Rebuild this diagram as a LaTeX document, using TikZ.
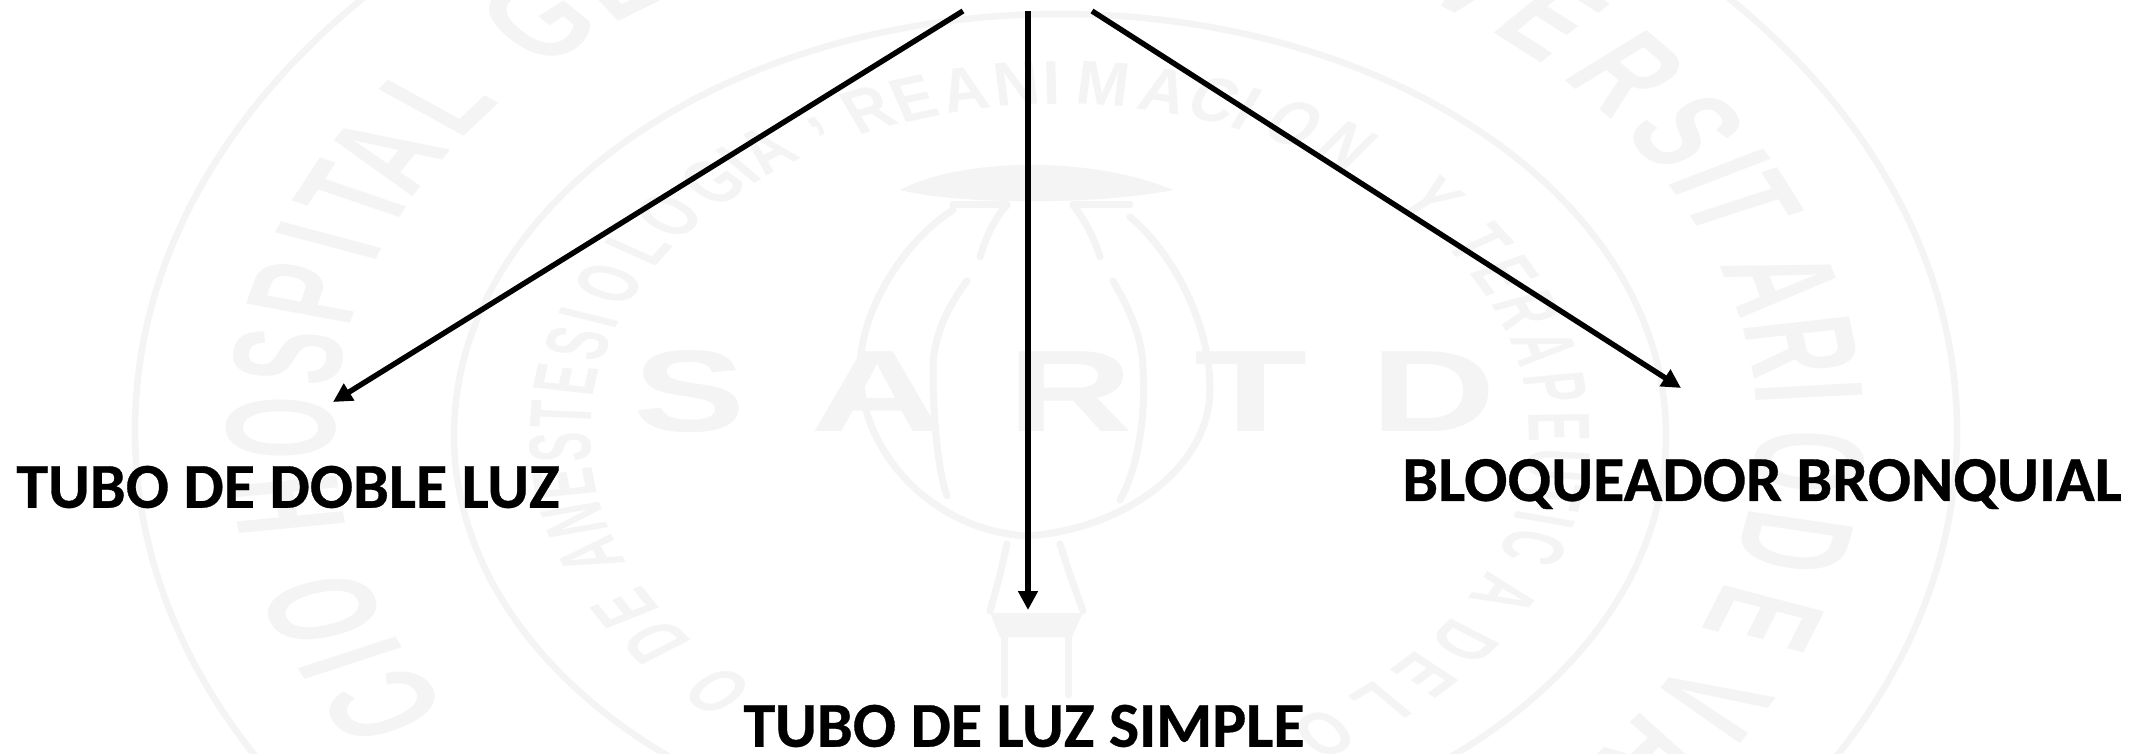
\documentclass[tikz,border=0pt]{standalone}
\usepackage{fontspec}
\setmainfont{Carlito}
\newfontfamily\wmfont{Liberation Sans}
\usetikzlibrary{arrows.meta}
\definecolor{wmgray}{HTML}{F4F4F4}
\tikzset{
  labeltext/.style={font=\fontsize{64}{76}\selectfont\bfseries\addfontfeature{FakeBold=0.5},text=black,inner sep=0pt,anchor=center},
  branch/.style={draw=black,line width=5.4pt,-{Triangle[length=19pt,width=19pt]}},
  wmring/.style={draw=wmgray,line width=6.5pt},
  wmletter/.style={text=wmgray,inner sep=0pt,anchor=center},
  wmbig/.style={font=\wmfont\fontsize{116}{116}\selectfont\bfseries,text=wmgray,inner sep=0pt},
  wmshape/.style={draw=wmgray,line width=7pt,fill=none,line cap=round}
}
\newcommand{\ringletters}[7]{% prefix cx cy stretch r fontsize list
  \begin{scope}[shift={(#2,#3)},xscale=#4,transform shape]
  \foreach \ang/\ch in {#7}{
    \node[wmletter,font=\wmfont\fontsize{#6}{#6}\selectfont\bfseries,rotate=\ang-90] (#1\ang) at ({#5*cos(\ang)},{-#5*sin(\ang)}) {\scalebox{0.72}[1]{\ch}};
  }
  \end{scope}
}
\begin{document}
\begin{tikzpicture}[x=1pt,y=-1pt]
\useasboundingbox (0,0) rectangle (2152,754);
\fill[white] (0,0) rectangle (2152,754);
\begin{scope}
\clip (0,0) rectangle (2152,754);
% watermark rings
\draw[wmring] (1046,431) ellipse [x radius=911,y radius=654];
\draw[wmring] (1060,435) ellipse [x radius=606,y radius=421];
% outer lettering
\ringletters{wa}{1046}{431}{1.39}{550}{112}{210/C,204.4/I,198.9/O,187.7/H,179.7/O,172.2/S,165.5/P,159.7/I,154.7/T,149.8/A,142.7/L,131.6/G,124.5/E,55.5/V,48.6/E,40.5/R,33/S,28.1/I,24.3/T,15.7/A,8.9/R,4.1/I,-3.2/O,-11.7/D,-20/E,-29.5/V,-36.5/A}
% inner lettering
\ringletters{wb}{1060}{435}{1.42}{352}{62}{226.8/O,216/D,209.5/E,200/A,194/N,188/E,182/S,176.6/T,171/E,165/S,160.5/I,154.5/O,147.5/L,141.4/O,134/G,130/I,126/A,119/{,},112.6/R,107/E,101/A,95/N,91/I,85/M,78/A,72/C,68/I,62/O,55/N,42/Y,33/T,27/E,20.8/R,14.3/A,7.7/P,1.3/E,-5/U,-10/T,-14/I,-18.6/C,-27/A,-36/D,-43/E,-50/L,-58/O}
% central letters
\node[wmbig] (wmS) at (690,392) {\scalebox{1.45}[1]{S}};
\node[wmbig] (wmA) at (878,392) {\scalebox{1.6}[1]{A}};
\node[wmbig] (wmR) at (1070,392) {\scalebox{1.5}[1]{R}};
\node[wmbig] (wmT) at (1251,392) {\scalebox{1.6}[1]{T}};
\node[wmbig] (wmD) at (1433,392) {\scalebox{1.5}[1]{D}};
% poppy capsule
\draw[wmshape] (953,210) .. controls (905,240) and (860,310) .. (860,369) .. controls (860,450) and (930,530) .. (1027,536) .. controls (1120,530) and (1210,470) .. (1210,389) .. controls (1210,320) and (1170,250) .. (1130,217);
\draw[wmshape] (967,281) .. controls (945,310) and (933,340) .. (933,369) .. controls (933,420) and (938,470) .. (947,496);
\draw[wmshape] (1113,281) .. controls (1130,310) and (1143,340) .. (1143,369) .. controls (1146,420) and (1137,470) .. (1120,500);
% crown
\fill[wmgray] (900,190) .. controls (960,158) and (1090,155) .. (1173,190) .. controls (1100,205) and (960,205) .. (900,190) -- cycle;
\draw[wmshape] (1007,205) .. controls (993,220) and (985,240) .. (980,257);
\draw[wmshape] (1073,205) .. controls (1085,220) and (1095,240) .. (1100,257);
\draw[wmshape] (953,205) -- (1007,205);
\draw[wmshape] (1073,205) -- (1130,205);
% stem
\draw[wmshape] (1007,544) -- (1000,575) -- (990,611);
\draw[wmshape] (1060,544) -- (1070,575) -- (1083,611);
\fill[wmgray] (990,613) -- (1083,613) -- (1072,637) -- (1000,637) -- cycle;
\draw[wmshape] (1004,637) -- (1004,695);
\draw[wmshape] (1068,637) -- (1068,695);
\end{scope}
% labels
\node[labeltext] (doble) at (288,487) {TUBO DE DOBLE LUZ};
\node[labeltext] (simple) at (1024,726) {TUBO DE LUZ SIMPLE};
\node[labeltext] (bloq) at (1762,484) {BLOQUEADOR BRONQUIAL};
% connectors
\coordinate (s1) at (963,11);
\coordinate (s2) at (1028,11);
\coordinate (s3) at (1092,11);
\coordinate (e1) at (333,402);
\coordinate (e2) at (1028,610);
\coordinate (e3) at (1681,388);
\draw[branch] (s1) -- (e1);
\draw[branch] (s2) -- (e2);
\draw[branch] (s3) -- (e3);
\end{tikzpicture}
\end{document}
